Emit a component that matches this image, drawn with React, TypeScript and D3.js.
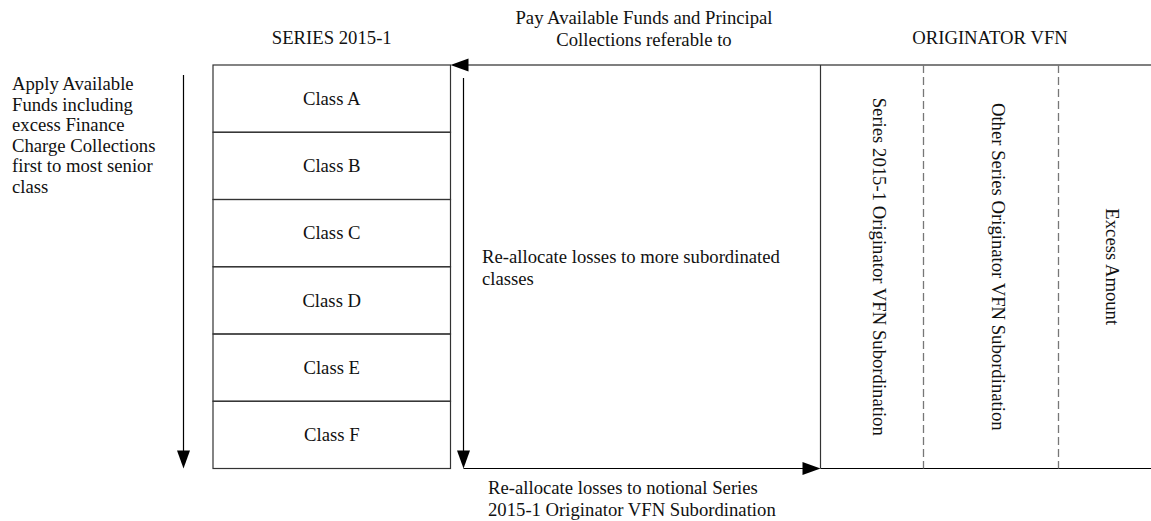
import React from 'react';
import * as d3 from 'd3';

// diagram content
const classes = ['Class A', 'Class B', 'Class C', 'Class D', 'Class E', 'Class F'];
const seriesTitle = 'SERIES 2015-1';
const vfnTitle = 'ORIGINATOR VFN';
const vfnColumns = [
  'Series 2015-1 Originator VFN Subordination',
  'Other Series Originator VFN Subordination',
  'Excess Amount'
];
const applyNote = [
  'Apply Available',
  'Funds including',
  'excess Finance',
  'Charge Collections',
  'first to most senior',
  'class'
];
const payNote = ['Pay Available Funds and Principal', 'Collections referable to'];
const reallocNote = ['Re-allocate losses to more subordinated', 'classes'];
const notionalNote = ['Re-allocate losses to notional Series', '2015-1 Originator VFN Subordination'];

// layout
const W = 1151;
const H = 521;
const TOP = 65;
const BOTTOM = 468.5;
const BOX_L = 213;
const BOX_R = 450.5;
const VFN_EDGES = [820.5, 923.5, 1058.5, W];
const FONT = '"Liberation Serif", "Times New Roman", serif';
const FS = 18.7;

const y = d3.scaleBand<string>().domain(classes).range([TOP, BOTTOM]);

const line = d3.line<[number, number]>();

// arrow head polygon; tip at (x, y), pointing in dir
function head(x: number, yy: number, dir: 'down' | 'left' | 'right', len = 18, half = 6.5) {
  let pts: [number, number][];
  if (dir === 'down') pts = [[x, yy], [x - half, yy - len], [x + half, yy - len]];
  else if (dir === 'left') pts = [[x, yy], [x + len, yy - half], [x + len, yy + half]];
  else pts = [[x, yy], [x - len, yy - half], [x - len, yy + half]];
  return line(pts) + 'Z';
}

function Lines({ lines, x, y0, step, anchor = 'start' }: { lines: string[]; x: number; y0: number; step: number; anchor?: string }) {
  return (
    <text x={x} y={y0} fontFamily={FONT} fontSize={FS} fill="#111" textAnchor={anchor}>
      {lines.map((l, i) => (
        <tspan key={i} x={x} y={y0 + i * step}>{l}</tspan>
      ))}
    </text>
  );
}

export default function App() {
  const boxMid = (BOX_L + BOX_R) / 2;
  const leftArrowX = 183.5;
  const midArrowX = 463.5;
  const vfnMidY = (TOP + BOTTOM) / 2;

  return (
    <svg
      width={W}
      height={H}
      style={{ position: 'absolute', left: 0, top: 0, background: '#fff' }}
    >
      {/* titles */}
      <text x={boxMid} y={44} textAnchor="middle" fontFamily={FONT} fontSize={FS} fill="#111">{seriesTitle}</text>
      <text x={990} y={44} textAnchor="middle" fontFamily={FONT} fontSize={FS} fill="#111">{vfnTitle}</text>

      <Lines lines={applyNote} x={12} y0={90} step={20.5} />
      <Lines lines={payNote} x={644} y0={24} step={22} anchor="middle" />
      <Lines lines={reallocNote} x={482} y0={263} step={22} />
      <Lines lines={notionalNote} x={488} y0={494} step={22} />

      {/* class boxes */}
      <g>
        {classes.map(c => (
          <g key={c}>
            <rect
              x={BOX_L}
              y={y(c)}
              width={BOX_R - BOX_L}
              height={y.bandwidth()}
              fill="none"
              stroke="#333"
              strokeWidth={1.2}
            />
            <text
              x={boxMid}
              y={(y(c) as number) + y.bandwidth() / 2 + 6.3}
              textAnchor="middle"
              fontFamily={FONT}
              fontSize={FS}
              fill="#111"
            >
              {c}
            </text>
          </g>
        ))}
      </g>

      {/* left priority arrow */}
      <path d={line([[leftArrowX, 75], [leftArrowX, BOTTOM - 16]])!} stroke="#000" strokeWidth={1.2} />
      <path d={head(leftArrowX, BOTTOM, 'down')} fill="#000" />

      {/* re-allocate arrow down then right */}
      <path d={line([[midArrowX, 78], [midArrowX, BOTTOM - 16]])!} stroke="#000" strokeWidth={1.2} />
      <path d={head(midArrowX, BOTTOM, 'down')} fill="#000" />
      <path d={line([[midArrowX, BOTTOM], [VFN_EDGES[0] - 16, BOTTOM]])!} stroke="#000" strokeWidth={1.2} />
      <path d={head(VFN_EDGES[0], BOTTOM, 'right')} fill="#000" />

      {/* top pay arrow */}
      <path d={line([[BOX_R + 16, TOP], [W, TOP]])!} stroke="#000" strokeWidth={1.2} />
      <path d={head(BOX_R, TOP, 'left')} fill="#000" />

      {/* originator vfn block */}
      <path d={line([[VFN_EDGES[0], BOTTOM], [W, BOTTOM]])!} stroke="#000" strokeWidth={1.2} />
      <path d={line([[VFN_EDGES[0], TOP], [VFN_EDGES[0], BOTTOM]])!} stroke="#333" strokeWidth={1.2} />
      {VFN_EDGES.slice(1, 3).map((ex, i) => (
        <path
          key={i}
          d={line([[ex, TOP], [ex, BOTTOM]])!}
          stroke="#777"
          strokeWidth={1.3}
          strokeDasharray="8,4"
        />
      ))}
      {vfnColumns.map((label, i) => {
        const cx = (VFN_EDGES[i] + VFN_EDGES[i + 1]) / 2 + 1;
        return (
          <text
            key={label}
            transform={`translate(${cx},${vfnMidY}) rotate(90)`}
            textAnchor="middle"
            fontFamily={FONT}
            fontSize={FS}
            fill="#111"
          >
            {label}
          </text>
        );
      })}
    </svg>
  );
}
